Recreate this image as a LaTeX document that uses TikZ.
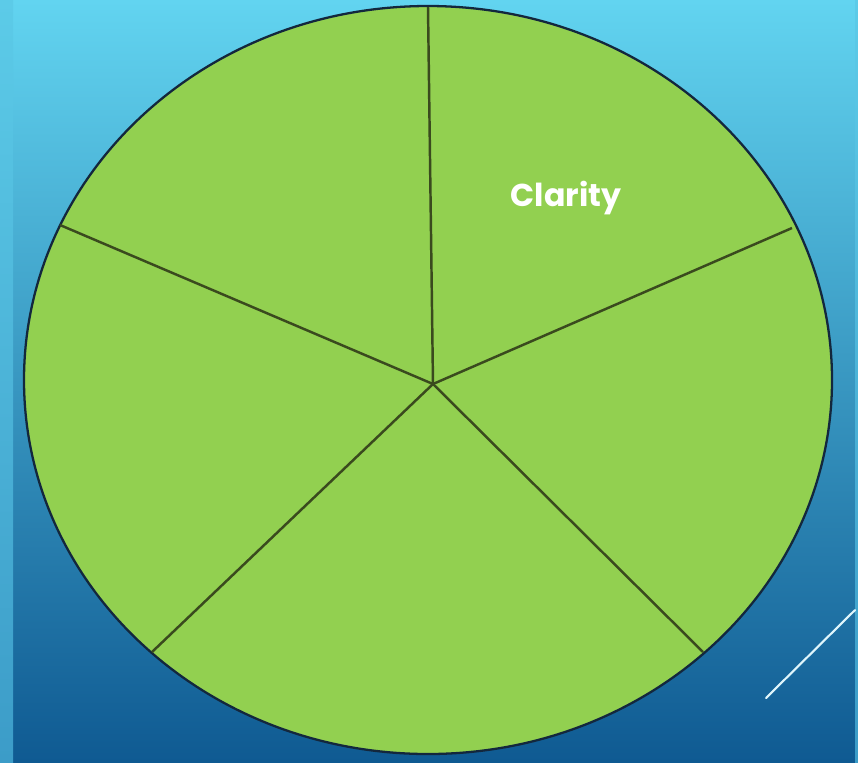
\documentclass[tikz,border=0pt]{standalone}
\usepackage{fontspec}
\newfontfamily\clarityfont{Poppins}
\definecolor{skytop}{HTML}{62D4F0}
\definecolor{seabottom}{HTML}{0F5A92}
\definecolor{striptop}{HTML}{5CCBE8}
\definecolor{stripbottom}{HTML}{3C9CC8}
\definecolor{slicegreen}{HTML}{92D050}
\definecolor{rimnavy}{HTML}{13273D}
\definecolor{spokeolive}{HTML}{3A4A1E}
\begin{document}
\begin{tikzpicture}[x=0.02cm,y=-0.02cm]
\useasboundingbox (0,0) rectangle (858,762);
% background
\shade[top color=skytop,bottom color=seabottom] (0,0) rectangle (858,762);
\shade[top color=striptop,bottom color=stripbottom] (0,0) rectangle (13,762);
\shade[top color=striptop,bottom color=stripbottom] (855,0) rectangle (858,762);
\draw[line width=1.2pt,color=white!80!skytop,line cap=round] (766,698) -- (855,610);
% wheel
\draw[fill=slicegreen,draw=rimnavy,line width=1.3pt] (428,380) ellipse (404 and 374);
\coordinate (hub) at (433,384);
\coordinate (top) at (428,7);
\coordinate (upright) at (792,228);
\coordinate (lowright) at (703,652);
\coordinate (lowleft) at (152,652);
\coordinate (upleft) at (60,225);
\foreach \p in {top,upright,lowright,lowleft,upleft}
  \draw[spokeolive,line width=1.4pt] (hub) -- (\p);
\node[text=white,font=\clarityfont\bfseries\fontsize{18}{21}\selectfont] (clarity) at (566,198) {Clarity};
\end{tikzpicture}
\end{document}
